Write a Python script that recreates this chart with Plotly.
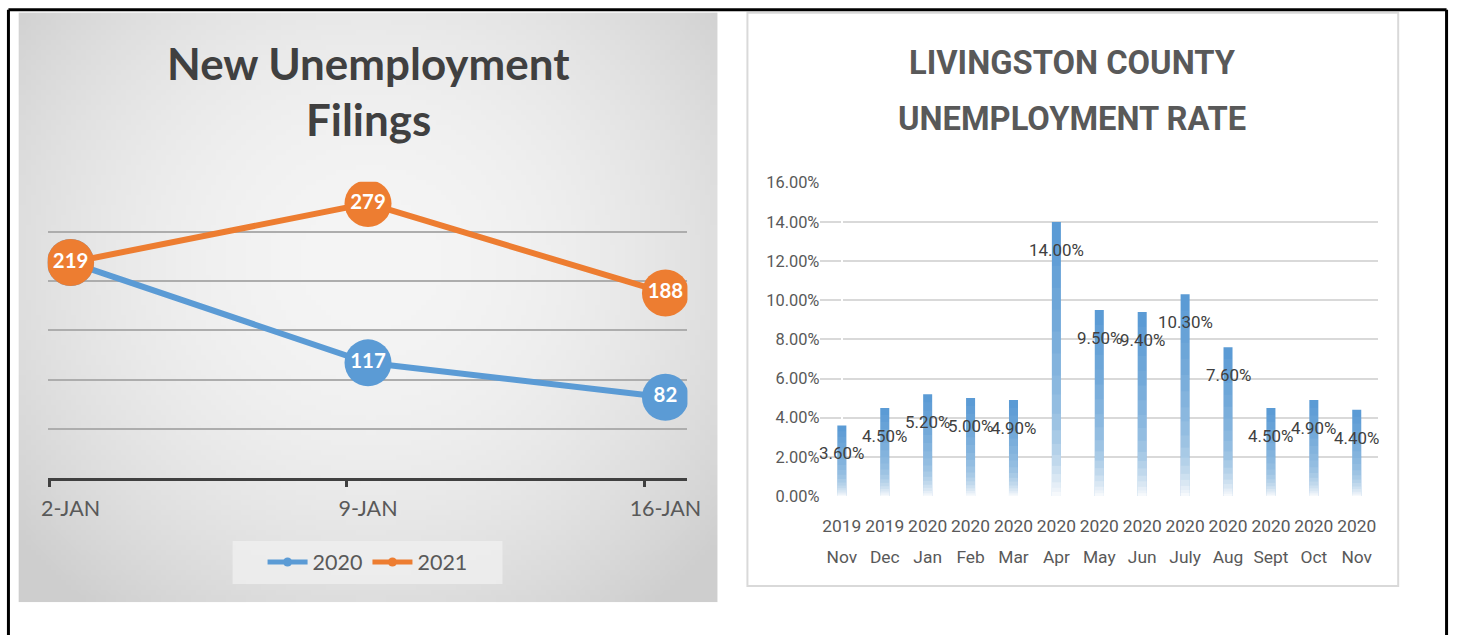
import base64
import struct
import zlib

import numpy as np
import plotly.graph_objects as go

# ---------------- data ----------------
filing_weeks = ["2-JAN", "9-JAN", "16-JAN"]
filings_2020 = [219, 117, 82]
filings_2021 = [219, 279, 188]

rate_years = ["2019", "2019", "2020", "2020", "2020", "2020", "2020",
              "2020", "2020", "2020", "2020", "2020", "2020"]
rate_months = ["Nov", "Dec", "Jan", "Feb", "Mar", "Apr", "May",
               "Jun", "July", "Aug", "Sept", "Oct", "Nov"]
rate_values = [0.036, 0.045, 0.052, 0.050, 0.049, 0.140, 0.095,
               0.094, 0.103, 0.076, 0.045, 0.049, 0.044]
rate_ticks = [0.0, 0.02, 0.04, 0.06, 0.08, 0.10, 0.12, 0.14, 0.16]

# ---------------- style ----------------
W, H = 1462, 635
BLUE = "#5B9BD5"
ORANGE = "#ED7D31"
NARROW = "Roboto, Liberation Sans Narrow, DejaVu Sans Condensed, sans-serif"
LATO = "Lato, Open Sans, sans-serif"

# the photographed page is slightly shrunk and offset; place things so they
# land on the reference pixel positions
SX, OX = 0.986, 6.3
SY, OY = 0.971, 7.35
S = 1 / ((SX + SY) / 2)


def fs(v):
    return round(v * S, 1)


def px(x):
    return ((x - OX) / SX) / W


def py(y):
    return 1 - ((y - OY) / SY) / H


# bar fade: fraction of bar height (from bottom) where each white layer ends,
# and the whiteness wanted in the band below that stop
fade_stops = [0.92, 0.84, 0.76, 0.68, 0.60, 0.52, 0.44, 0.37, 0.30,
              0.24, 0.19, 0.15, 0.11, 0.08, 0.05, 0.03, 0.015]
fade_white = [0.04, 0.08, 0.12, 0.16, 0.21, 0.26, 0.31, 0.36, 0.42,
              0.49, 0.56, 0.63, 0.71, 0.78, 0.85, 0.90, 0.95]
# the Excel tick marks sit a little left of each category label
tick_offset = 0.072


def gradient_png(w, h):
    yy, xx = np.mgrid[0:h, 0:w]
    cx, cy = w * 0.5, h * 0.42
    r2 = ((xx - cx) / (w * 0.55)) ** 2 + ((yy - cy) / (h * 0.62)) ** 2
    c = np.clip(245 - 27 * r2, 206, 245).astype(np.uint8)
    raw = b"".join(b"\x00" + bytes(np.stack([c[i]] * 3, axis=1).flatten()) for i in range(h))

    def chunk(t, d):
        return struct.pack(">I", len(d)) + t + d + struct.pack(">I", zlib.crc32(t + d) & 0xffffffff)

    png = b"\x89PNG\r\n\x1a\n" + chunk(b"IHDR", struct.pack(">IIBBBBB", w, h, 8, 2, 0, 0, 0))
    png += chunk(b"IDAT", zlib.compress(raw, 9)) + chunk(b"IEND", b"")
    return "data:image/png;base64," + base64.b64encode(png).decode()


fig = go.Figure()

# ---------------- left chart: line ----------------
for vals, name, col in ((filings_2020, "2020", BLUE), (filings_2021, "2021", ORANGE)):
    fig.add_trace(go.Scatter(
        x=filing_weeks, y=vals, name=name, mode="lines+markers+text",
        line=dict(color=col, width=6), marker=dict(color=col, size=fs(46)),
        text=[str(v) for v in vals], textposition="middle center",
        textfont=dict(family=LATO, size=fs(20), color="white", weight="bold"),
        xaxis="x", yaxis="y", showlegend=False, hoverinfo="skip"))
# legend entries
for name, col in (("2020", BLUE), ("2021", ORANGE)):
    fig.add_trace(go.Scatter(
        x=[None], y=[None], name=name, mode="lines+markers",
        line=dict(color=col, width=5), marker=dict(color=col, size=9),
        xaxis="x", yaxis="y", showlegend=True))
# invisible carrier for the tick-mark axis
fig.add_trace(go.Scatter(x=[0, 1, 2], y=[None] * 3, mode="markers",
                         xaxis="x4", yaxis="y", showlegend=False, hoverinfo="skip"))

# ---------------- right chart: bars ----------------
cat_ids = list(range(len(rate_values)))
fig.add_trace(go.Bar(
    x=cat_ids, y=rate_values, marker=dict(color=BLUE, line=dict(width=0)),
    xaxis="x2", yaxis="y2", showlegend=False, hoverinfo="skip"))
prev = 0.0
for stop, wv in zip(fade_stops, fade_white):
    alpha = 1 - (1 - wv) / (1 - prev)
    prev = wv
    fig.add_trace(go.Bar(
        x=cat_ids, y=[v * stop for v in rate_values],
        marker=dict(color=f"rgba(255,255,255,{alpha:.3f})", line=dict(width=0)),
        xaxis="x2", yaxis="y2", showlegend=False, hoverinfo="skip"))
# invisible carrier for the month label axis
fig.add_trace(go.Scatter(x=cat_ids, y=[None] * len(cat_ids), mode="markers",
                         xaxis="x3", yaxis="y2", showlegend=False, hoverinfo="skip"))

annotations = []
for i, v in zip(cat_ids, rate_values):
    annotations.append(dict(
        x=i, y=v, xref="x2", yref="y2", text=f"{v * 100:.2f}%", showarrow=False,
        yshift=-27 / SY, font=dict(family=NARROW, size=fs(16.5), color="#404040")))

# titles
for txt, yy in (("New Unemployment", 62), ("Filings", 118)):
    annotations.append(dict(
        x=px(368), y=py(yy), xref="paper", yref="paper", text=txt, showarrow=False,
        xanchor="center", yanchor="middle",
        font=dict(family=LATO, size=fs(43), color="#404040", weight="bold")))
for txt, yy in (("LIVINGSTON COUNTY", 62), ("UNEMPLOYMENT RATE", 118)):
    annotations.append(dict(
        x=px(1072), y=py(yy), xref="paper", yref="paper", text=txt, showarrow=False,
        xanchor="center", yanchor="middle",
        font=dict(family=NARROW, size=fs(32), color="#595959", weight="bold")))

shapes = [
    # right panel frame
    dict(type="rect", xref="paper", yref="paper", x0=px(747), x1=px(1398),
         y0=py(585), y1=py(12), line=dict(color="#d9d9d9", width=2),
         fillcolor="white", layer="below"),
    # legend box background
    dict(type="rect", xref="paper", yref="paper", x0=px(232), x1=px(502),
         y0=py(583), y1=py(540), line=dict(width=0),
         fillcolor="rgba(240,240,240,0.75)", layer="below"),
    # outer cell border
    dict(type="line", xref="paper", yref="paper", x0=0.001, x1=0.999,
         y0=py(9), y1=py(9), line=dict(color="black", width=3)),
    dict(type="line", xref="paper", yref="paper", x0=0.001, x1=0.001,
         y0=py(9), y1=-0.05, line=dict(color="black", width=3)),
    dict(type="line", xref="paper", yref="paper", x0=0.999, x1=0.999,
         y0=py(9), y1=-0.05, line=dict(color="black", width=3)),
]

images = [dict(source=gradient_png(140, 118), xref="paper", yref="paper",
               x=px(18), y=py(12), sizex=px(717) - px(18), sizey=py(12) - py(601),
               xanchor="left", yanchor="top", sizing="stretch", layer="below")]

x_range = [-0.077, 2.074]
fig.update_layout(
    width=W, height=H, margin=dict(l=0, r=0, t=0, b=0),
    paper_bgcolor="white", plot_bgcolor="rgba(0,0,0,0)",
    barmode="overlay", bargap=0.79,
    xaxis=dict(domain=[px(47), px(687)], type="category", range=x_range,
               showline=True, linecolor="#404040", linewidth=3, ticks="",
               showgrid=False, fixedrange=True, ticklabelstandoff=9,
               tickfont=dict(family=LATO, size=fs(21), color="#595959")),
    xaxis4=dict(domain=[px(47), px(687)], anchor="y", overlaying="x", type="linear",
                range=x_range, tickmode="array",
                tickvals=[i - tick_offset for i in range(len(filing_weeks))],
                showticklabels=False, ticks="outside", tickcolor="#404040",
                tickwidth=3, ticklen=8, showline=False, showgrid=False,
                zeroline=False, fixedrange=True),
    yaxis=dict(domain=[py(477), py(181)], range=[0, 301], dtick=50,
               showticklabels=False, showgrid=True, gridcolor="#adadad", gridwidth=2,
               zeroline=False, showline=False, fixedrange=True),
    xaxis2=dict(domain=[px(820), px(1378)], anchor="y2", range=[-0.5, 12.5],
                tickmode="array", tickvals=cat_ids, ticktext=rate_years, tickangle=0,
                ticklabelstandoff=18,
                showline=False, ticks="", showgrid=False, fixedrange=True,
                tickfont=dict(family=NARROW, size=fs(17), color="#595959")),
    xaxis3=dict(domain=[px(820), px(1378)], anchor="y2", overlaying="x2",
                range=[-0.5, 12.5], tickmode="array", tickvals=cat_ids,
                ticktext=rate_months, tickangle=0, ticklabelstandoff=49,
                showline=False, ticks="", showgrid=False, fixedrange=True,
                tickfont=dict(family=NARROW, size=fs(17), color="#595959")),
    yaxis2=dict(domain=[py(495), py(181)], anchor="x2", range=[0, 0.1605],
                tickmode="array", tickvals=rate_ticks, tickformat=".2%",
                showgrid=True, gridcolor="#d9d9d9", gridwidth=2,
                zeroline=False, showline=False, ticks="", fixedrange=True,
                tickfont=dict(family=NARROW, size=fs(16), color="#595959")),
    legend=dict(orientation="h", x=px(367), y=py(561), xanchor="center",
                yanchor="middle", bgcolor="rgba(0,0,0,0)",
                font=dict(family=LATO, size=fs(21), color="#595959"),
                itemwidth=40, traceorder="normal"),
    annotations=annotations, shapes=shapes, images=images,
)

fig.write_html(
    "out.html",
    config={"displayModeBar": False},
    post_script=("document.documentElement.style.margin='0';"
                 "document.body.style.margin='0';"
                 "document.documentElement.style.overflow='hidden';"
                 "document.body.style.overflow='hidden';"),
)
